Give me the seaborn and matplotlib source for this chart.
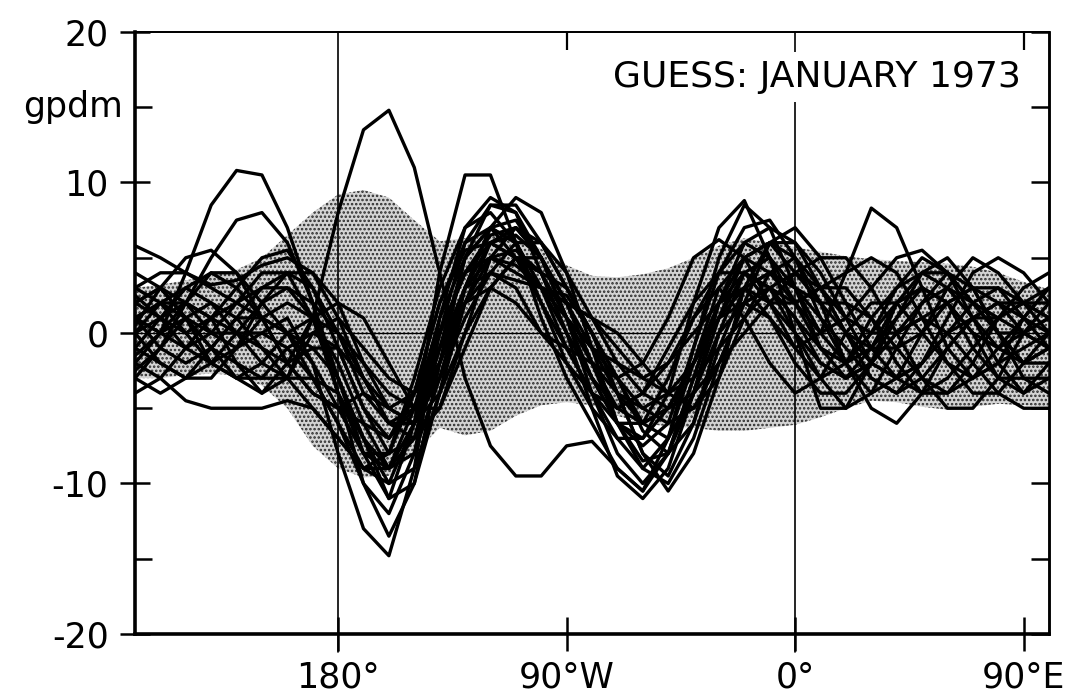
import numpy as np
import pandas as pd
import matplotlib
matplotlib.use("Agg")
import matplotlib.pyplot as plt
import matplotlib.transforms as mtransforms
import seaborn as sns

# ---------------- data ----------------
lon = [100, 110, 120, 130, 140, 150, 160, 170, 180, 190, 200, 210, 220, 230, 240, 250,
       260, 270, 280, 290, 300, 310, 320, 330, 340, 350, 360, 370, 380, 390, 400, 410,
       420, 430, 440, 450, 460]

band_upper = [3.0, 3.2, 3.5, 3.8, 4.2, 5.0, 6.5, 8.0, 9.2, 9.5, 9.0, 7.5, 6.1, 6.3, 6.6, 6.4,
              5.6, 4.5, 3.8, 3.7, 3.9, 4.3, 5.0, 5.8, 6.3, 6.0, 5.7, 5.4, 5.1, 4.9, 4.8, 4.7,
              4.6, 4.4, 4.0, 3.4, 2.9]
band_lower = [-3.0, -3.0, -2.8, -2.7, -2.8, -3.5, -5.0, -7.5, -9.0, -9.6, -9.5, -8.0, -6.3, -6.8, -6.5, -5.5,
              -4.8, -4.6, -4.8, -5.5, -6.0, -6.2, -6.3, -6.5, -6.5, -6.3, -6.1, -5.6, -5.0, -4.5, -4.6, -4.9,
              -5.1, -4.9, -4.7, -4.8, -4.9]

m01 = [1, 2, 1, -1, -2, -3, -3, 1, 8, 13.5, 14.8, 11, 4, -3, -7.5, -9.5,
       -9.5, -7.5, -7.2, -9, -10.5, -8, -3, 2, 4, 3, 1, -1, -2, 0, 2, 3, 2, 0, -1, 0, 1]
m02 = [-2, 0, 4, 8.5, 10.8, 10.5, 7, 2, -4, -10, -13.5, -10, -2, 5, 7, 6,
       3, 0, -3, -5, -4, -1, 2, 4, 4, 2, 0, -2, -3, -2, 0, 2, 3, 2, 0, -2, -2]
m03 = [1, 0, 2, 5, 7.5, 8, 6, 2, -3, -7, -9, -7, -2, 3, 6, 6.5,
       5, 2, -1, -4, -6, -5, -2, 1, 3, 4, 3, 1, -1, -3, -4, -3, -1, 1, 2, 1, 0]
m04 = [2, 3, 2, 0, -1, 0, 1, -2, -8, -13, -14.8, -9, 1, 7, 9, 8,
       5, 1, -4, -8, -10, -8, -3, 2, 5, 6, 4, 2, 0, -2, -3, -2, 0, 2, 3, 2, 1]
m05 = [-1, -2, -3, -2, 0, 2, 3, 1, -3, -8, -11, -6, 4, 10.5, 10.5, 6,
       1, -3, -6, -9, -10.5, -7, -1, 5, 8.5, 7, 3, -1, -3, -2, 1, 4, 5, 3, 0, -2, -1]
m06 = [3, 4, 4, 3, 2, 1, 0, -3, -6, -10, -12, -8, 0, 6, 8.5, 8.5,
       6, 3, 0, -4, -8, -9.5, -6, 0, 4, 5, 3, 0, -2, -1, 1, 3, 2, 0, -3, -4, -2]
m07 = [0, 1, 3, 4, 3, 1, -2, -4, -5, -6, -7, -4, 2, 5.5, 6, 5,
       3, 1, -1, -3, -5, -6, -5, -2, 2, 6, 7, 5, 2, -1, -3, -4, -3, -1, 1, 2, 2]
m08 = [5.8, 5, 4, 3.2, 3.5, 4.5, 5, 4, 1, -3, -5, -4, 0, 4, 5, 4.5,
       3, 2, 1, -1, -3, -4, -3, -1, 1, 3, 4, 3, 1, 0, 0, 1, 2, 3, 2, 0, -1]
m09 = [-2, -3, -4.5, -5, -5, -5, -4.5, -5, -7, -9, -9, -6, -1, 3, 4, 3,
       0, -2, -4, -5, -4, -2, 0, 2, 3, 1, -2, -4, -4, -2, 0, 1, 0, -2, -4, -5, -5]
m10 = [-4, -3, -1, 1, 2, 3, 3, 2, 0, -2, -4, -5, -3, 1, 4, 6,
       6, 4, 1, -2, -4, -5, -4, -2, 0, 2, 4, 5, 5, 3, 0, -3, -4, -3, -1, 1, 3]
m11 = [1, -1, -2, -1, 1, 3, 4, 3, 0, -4, -6, -5, -1, 2, 3, 2,
       0, -1, -2, -3, -2, 1, 5, 6.2, 5, 2, -1, -3, -2, 1, 3, 4, 3, 1, -1, -2, -1]
m12 = [2, 1, -1, -2, -1, 1, 2, 1, -2, -6, -9, -8, -3, 3, 7, 9,
       8, 4, -1, -6, -9, -10, -7, -2, 2, 3, 2, 3, 4, 5, 4, 1, -2, -4, -4, -2, 0]
m13 = [0, 2, 3, 2, 0, -2, -3, -3, -4, -7, -10, -9, -4, 2, 6, 7,
       5, 2, -2, -6, -7, -5, -2, 1, 2, 1, -1, 0, 4, 8.3, 7, 3, -1, -3, -2, 1, 3]
m14 = [-3, -1, 1, 2, 1, -1, -2, -1, -1, -3, -6, -7, -5, 0, 5, 7,
       6, 3, 0, -3, -6, -7, -4, 1, 5, 6, 5, 2, -2, -5, -6, -4, -1, 1, 2, 2, 1]
m15 = [1, 0, -1, 0, 2, 4, 4, 1, -4, -8, -9, -5, 1, 5, 7, 6,
       2, -2, -5, -7, -7, -4, 2, 7, 8.8, 5, 0, -5, -5, -2, 2, 4, 4, 2, 0, 0, 1]
m16 = [2, 3, 1, -2, -3, -2, 0, 1, 0, -3, -6, -6, -2, 3, 5, 4,
       3, 2, 1, 0, -2, -4, -5, -3, 1, 4, 5, 3, 0, -3, -4, -2, 1, 4, 5, 4, 2]
m17 = [-1, 1, 2, 1, -2, -4, -3, 0, 1, -1, -3, -4, -2, 2, 5, 5.5,
       4, 0, -5, -9.5, -11, -9, -4, 2, 6, 7, 6, 3, 0, -1, -1, 0, 2, 3, 3, 1, -1]
m18 = [3, 2, 0, -2, -3, -3, -1, 0, -1, -5, -8, -7, -1, 5, 8.5, 8,
       4, 0, -3, -6, -8.5, -8, -4, 0, 2, 3, 1, -2, -3, -1, 2, 3, 2, -1, -3, -3, -3]
m19 = [0, -2, -3, -3, -1, 2, 4, 4, 2, -2, -5, -6, -4, 0, 3, 5,
       5, 2, -2, -5, -6, -5, -2, 2, 3, 2, 2, 3, 3, 1, -2, -4, -4, -2, 1, 3, 4]
m20 = [1, 2, 2, 1, 0, 0, -1, -3, -6, -9, -10, -6, 0, 4, 6, 5,
       4, 3, 0, -4, -8, -10.5, -8, -3, 3, 6, 6, 4, 1, -2, -3, -2, 0, 1, 1, 0, -1]
m21 = [2.5, 1, 0, 1, 3, 5, 5.5, 3, -1, -5, -7, -5, 0, 4, 6.5, 7,
       5, 1, -3, -6, -7.5, -6, -1, 4, 7, 7.5, 5, 1, -2, -4, -3, 0, 3, 5, 4, 2, 0]
m22 = [-2.5, -1, 2, 4, 4, 2, 0, -1, -3, -7, -11, -10, -4, 3, 7, 7.5,
       5, 1, -2, -4, -5, -4, -2, 1, 4, 3, 0, -3, -5, -4, -1, 2, 4, 3, 0, -3, -4]
m23 = [0.5, 3, 5, 5.5, 4, 1, -2, -4, -5, -4, -5, -6, -3, 2, 4, 3.5,
       3, 2.5, 0, -3, -6.5, -8, -6, -1, 3, 4, 2, 0, 1, 3, 5, 5.5, 4, 1, -2, -4, -3]
m24 = [-3, -4, -3, -1, 1, 1, 0, -2, -5, -8, -8, -4, 2, 6, 7, 5,
       2, -1, -4, -7, -9, -7, -2, 3, 5, 4, 3, 2, 2, 1, -1, -3, -5, -5, -3, 0, 2]
m25 = [4, 3, 1, 0, 0, -1, -3, -5, -7, -9, -8, -3, 3, 7, 8, 6,
       3, -1, -4, -6, -6, -3, 1, 4, 6, 5, 2, -1, -2, 0, 3, 5, 4, 2, 1, 2, 3]
m26 = [-1.5, 0, 1, -1, -3, -4, -2, 1, 2, 1, -2, -5, -5, -1, 3, 5,
       4, 1, -1, -2, -3, -2, 1, 3, 1, -2, -4, -3, 0, 2, 2, 0, -2, -3, -2, -1, 0]

members = [m01, m02, m03, m04, m05, m06, m07, m08, m09, m10, m11, m12, m13,
           m14, m15, m16, m17, m18, m19, m20, m21, m22, m23, m24, m25, m26]

x_ticks = [180, 270, 360, 450]
x_tick_labels = ["180°", "90°W", "0°", "90°E"]
y_major = [-20, -10, 0, 10, 20]
y_major_labels = ["-20", "-10", "0", "10", "20"]
y_minor = [-15, -5, 5, 15]
unit_label = "gpdm"
title_text = "GUESS: JANUARY 1973"

# ---------------- build long-form table ----------------
frames = []
for i, vals in enumerate(members):
    frames.append(pd.DataFrame({"lon": lon, "value": vals, "member": i}))
df = pd.concat(frames, ignore_index=True)

# ---------------- plot ----------------
sns.set_theme(style="white")
plt.rcParams["font.family"] = ["DejaVu Sans"]
plt.rcParams["text.color"] = "black"
plt.rcParams["xtick.color"] = "black"
plt.rcParams["ytick.color"] = "black"
plt.rcParams["axes.labelcolor"] = "black"
plt.rcParams["hatch.linewidth"] = 1.2
plt.rcParams["hatch.color"] = "#2a2a2a"

fig = plt.figure(figsize=(10.67, 6.98), dpi=100)
ax = fig.add_axes([135 / 1067, 1 - 634 / 698, (1049 - 135) / 1067, (634 - 32) / 698])

ax.fill_between(lon, band_lower, band_upper, facecolor="#d4d4d4", edgecolor="#2a2a2a",
                hatch="....", linewidth=0, zorder=1)

sns.lineplot(data=df, x="lon", y="value", units="member", estimator=None,
             color="black", linewidth=2.4, legend=False, ax=ax, zorder=3,
             solid_joinstyle="round", solid_capstyle="round")

ax.axhline(0, color="black", linewidth=0.9, zorder=2)
for xv in (180, 360):
    ax.plot([xv, xv], [-21.2, 20], color="black", linewidth=1.2, clip_on=False, zorder=2)

ax.set_xlim(100, 460)
ax.set_ylim(-20, 20)
ax.set_xlabel("")
ax.set_ylabel("")

fs = 25
ax.set_xticks(x_ticks)
ax.set_xticklabels(x_tick_labels, fontsize=fs, color="black")
ax.set_yticks(y_major)
ax.set_yticklabels(y_major_labels, fontsize=fs, color="black")
ax.set_yticks(y_minor, minor=True)

ax.tick_params(axis="y", which="major", direction="inout", length=22, width=1.8,
               pad=8, left=True, right=False, colors="black")
ax.tick_params(axis="y", which="minor", direction="in", length=12, width=1.8,
               left=True, right=False, colors="black")
ax.tick_params(axis="x", which="major", direction="inout", length=24, width=1.8,
               pad=7, bottom=True, top=False, colors="black")

# right side inward ticks
axr = ax.secondary_yaxis("right")
axr.set_yticks(y_major + y_minor)
axr.set_yticklabels([])
axr.tick_params(direction="in", length=13, width=1.8, colors="black")
axr.spines["right"].set_linewidth(1.8)
axr.spines["right"].set_color("black")

# top side inward ticks
axt = ax.secondary_xaxis("top")
axt.set_xticks([270, 450])
axt.set_xticklabels([])
axt.tick_params(direction="in", length=13, width=1.6, colors="black")
axt.spines["top"].set_linewidth(1.3)
axt.spines["top"].set_color("black")

for side, lw in (("left", 2.6), ("bottom", 2.6), ("right", 1.8), ("top", 1.3)):
    ax.spines[side].set_visible(True)
    ax.spines[side].set_linewidth(lw)
    ax.spines[side].set_color("black")

trans = mtransforms.blended_transform_factory(ax.transAxes, ax.transData)
ax.text(-0.0135, 15, unit_label, transform=trans, ha="right", va="center",
        fontsize=fs, color="black")

ax.text(449, 17.0, title_text, ha="right", va="center", fontsize=26, zorder=5,
        color="black", bbox=dict(facecolor="white", edgecolor="none", pad=6))

fig.savefig("out.png", dpi=100)
